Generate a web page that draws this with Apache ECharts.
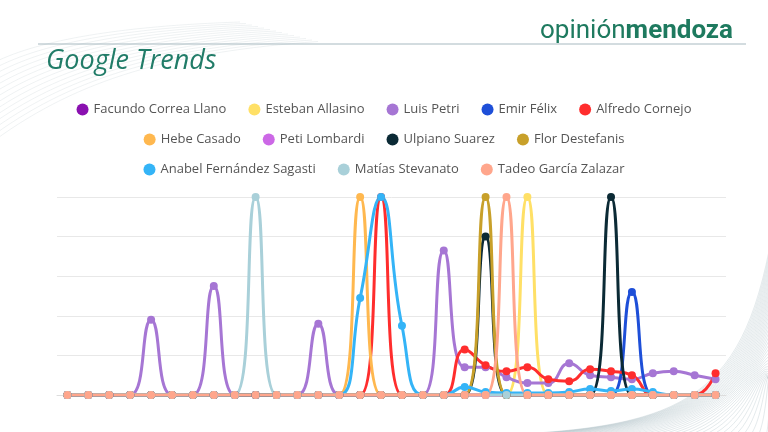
<!DOCTYPE html>
<html>
<head>
<meta charset="utf-8">
<style>
  html, body { margin: 0; padding: 0; background: #ffffff; }
  #chart { width: 768px; height: 432px; }
</style>
<script src="https://cdn.jsdelivr.net/npm/echarts@6/dist/echarts.min.js"></script>
</head>
<body>
<div id="chart"></div>
<script>
  // semanas (32 puntos, sin etiquetas visibles)
  const weeks = Array.from({ length: 32 }, (_, i) => 'S' + (i + 1));

  const names = [
    'Facundo Correa Llano', 'Esteban Allasino', 'Luis Petri', 'Emir Félix', 'Alfredo Cornejo',
    'Hebe Casado', 'Peti Lombardi', 'Ulpiano Suarez', 'Flor Destefanis',
    'Anabel Fernández Sagasti', 'Matías Stevanato', 'Tadeo García Zalazar',
  ];
  const colors = [
    '#8a10b0', '#ffe066', '#a676d4', '#1e4fd8', '#ff2d2d',
    '#ffb84f', '#cc68e6', '#0b2a35', '#c8a02a',
    '#34b4f7', '#a9d0d9', '#ffa68c',
  ];

  // filas de la leyenda
  const legendRows = [
    ['Facundo Correa Llano', 'Esteban Allasino', 'Luis Petri', 'Emir Félix', 'Alfredo Cornejo'],
    ['Hebe Casado', 'Peti Lombardi', 'Ulpiano Suarez', 'Flor Destefanis'],
    ['Anabel Fernández Sagasti', 'Matías Stevanato', 'Tadeo García Zalazar'],
  ];

  // valores (0-100)
  const facundo = [0,0,0,0,0,0,0,0,0,0,0,0,0,0,0,0,0,0,0,0,0,0,0,0,0,0,0,0,0,0,0,0];
  const esteban = [0,0,0,0,0,0,0,0,0,0,0,0,0,0,0,0,0,0,0,0,0,0,100,0,0,0,0,0,0,0,0,0];
  const luis    = [0,0,0,0,38,0,0,55,0,0,0,0,36,0,0,0,0,0,73,14,14,9,6,6,16,10,9,8,11,12,10,8];
  const emir    = [0,0,0,0,0,0,0,0,0,0,0,0,0,0,0,0,0,0,0,0,0,0,0,0,0,0,0,52,0,0,0,0];
  const alfredo = [0,0,0,0,0,0,0,0,0,0,0,0,0,0,0,100,0,0,0,23,15,12,14,8,7,13,12,10,0,0,0,11];
  const hebe    = [0,0,0,0,0,0,0,0,0,0,0,0,0,0,100,0,0,0,0,0,0,0,0,0,0,0,0,0,0,0,0,0];
  const peti    = [0,0,0,0,0,0,0,0,0,0,0,0,0,0,0,0,0,0,0,0,0,0,0,0,0,0,0,0,0,0,0,0];
  const ulpiano = [0,0,0,0,0,0,0,0,0,0,0,0,0,0,0,0,0,0,0,0,80,0,0,0,0,0,100,0,0,0,0,0];
  const flor    = [0,0,0,0,0,0,0,0,0,0,0,0,0,0,0,0,0,0,0,0,100,0,0,0,0,0,0,0,0,0,0,0];
  const anabel  = [0,0,0,0,0,0,0,0,0,0,0,0,0,0,49,100,35,0,0,4,1.5,1,1,1,1.5,3,2,3,1.5,0,0,0];
  const matias  = [0,0,0,0,0,0,0,0,0,100,0,0,0,0,0,0,0,0,0,0,0,0,0,0,0,0,0,0,0,0,0,0];
  const tadeo   = [0,0,0,0,0,0,0,0,0,0,0,0,0,0,0,0,0,0,0,0,0,100,0,0,0,0,0,0,0,0,0,0];

  const values = [facundo, esteban, luis, emir, alfredo, hebe, peti, ulpiano, flor, anabel, matias, tadeo];

  // líneas decorativas de fondo
  const deco = [];
  for (let k = 0; k < 40; k++) {
    deco.push({
      type: 'bezierCurve',
      silent: true,
      z: -10,
      shape: {
        x1: 470 + k * 8, y1: 436,
        cpx1: 680 + k * 2.5, cpy1: 430 - k * 0.5,
        cpx2: 742 + k * 0.7, cpy2: 405 - k * 2,
        x2: 772, y2: 235 + k * 5,
      },
      style: { stroke: '#93aab3', lineWidth: 0.5, fill: null, opacity: 0.5 },
    });
  }
  for (let k = 0; k < 14; k++) {
    deco.push({
      type: 'bezierCurve',
      silent: true,
      z: -10,
      shape: {
        x1: -5, y1: 62 + k * 6,
        cpx1: 40 + k * 3, cpy1: 40 + k * 3,
        cpx2: 120 + k * 4, cpy2: 26 + k * 2,
        x2: 240 + k * 6, y2: 22 + k * 1.5,
      },
      style: { stroke: '#d3dadd', lineWidth: 0.6, fill: null, opacity: 0.6 },
    });
  }

  const chart = echarts.init(document.getElementById('chart'));

  const option = {
    animation: false,
    backgroundColor: '#ffffff',
    color: colors,
    graphic: [
      ...deco,
      {
        type: 'line',
        silent: true,
        shape: { x1: 38, y1: 44, x2: 746, y2: 44 },
        style: { stroke: '#a7b9c0', lineWidth: 1 },
      },
      {
        type: 'text',
        silent: true,
        right: 35,
        top: 18,
        style: {
          text: '{a|opinión}{b|mendoza}',
          rich: {
            a: { fontFamily: 'Roboto', fontSize: 26, fill: '#1e7a5f' },
            b: { fontFamily: 'Roboto', fontSize: 26, fontWeight: 'bold', fill: '#1e7a5f' },
          },
        },
      },
      {
        type: 'text',
        silent: true,
        left: 46,
        top: 48,
        style: {
          text: 'Google Trends',
          fontFamily: 'Open Sans',
          fontStyle: 'italic',
          fontSize: 27,
          fill: '#217c68',
        },
      },
    ],
    legend: legendRows.map((row, i) => ({
      data: row,
      top: 98 + i * 30,
      left: 'center',
      icon: 'circle',
      itemWidth: 12,
      itemHeight: 12,
      itemGap: 22,
      textStyle: { fontFamily: 'Open Sans', fontSize: 13, color: '#555555' },
    })),
    grid: {
      left: 57,
      right: 42,
      top: 197,
      bottom: 37,
    },
    xAxis: {
      type: 'category',
      data: weeks,
      boundaryGap: true,
      axisLine: { lineStyle: { color: '#dddddd' } },
      axisTick: { show: false },
      axisLabel: { show: false },
    },
    yAxis: {
      type: 'value',
      min: 0,
      max: 100,
      interval: 20,
      axisLabel: { show: false },
      axisLine: { show: false },
      axisTick: { show: false },
      splitLine: { lineStyle: { color: '#e8e8e8' } },
    },
    series: names.map((name, i) => ({
      name,
      type: 'line',
      data: values[i],
      smooth: true,
      symbol: 'circle',
      symbolSize: 8,
      lineStyle: { width: 3 },
    })),
  };

  chart.setOption(option);
</script>
</body>
</html>
